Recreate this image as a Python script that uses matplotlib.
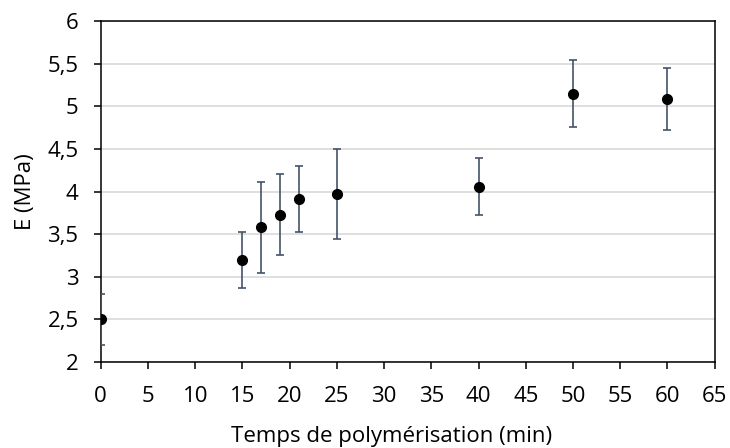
import matplotlib
matplotlib.use("Agg")
import matplotlib.pyplot as plt
from matplotlib.ticker import FuncFormatter

# ── Data ──────────────────────────────────────────────────────────────────────
temps = [0, 15, 17, 19, 21, 25, 40, 50, 60]
module = [2.50, 3.20, 3.58, 3.72, 3.91, 3.97, 4.05, 5.15, 5.09]
err_low = [0.30, 0.33, 0.54, 0.46, 0.38, 0.53, 0.33, 0.39, 0.37]
err_high = [0.30, 0.32, 0.53, 0.48, 0.39, 0.53, 0.34, 0.39, 0.36]

plt.rcParams["font.family"] = ["Open Sans", "DejaVu Sans"]

fig = plt.figure(figsize=(7.3, 4.48), dpi=100)
ax = fig.add_axes([0.138, 0.192, 0.841, 0.761])

ax.errorbar(temps, module, yerr=[err_low, err_high], fmt="o", color="black",
            ms=7, ecolor="#44546A", elinewidth=1.2, capsize=3, capthick=1.2,
            zorder=3)

ax.set_xlim(0, 65)
ax.set_ylim(2, 6)
ax.set_xticks(range(0, 66, 5))
ax.set_yticks([2 + 0.5 * i for i in range(9)])
ax.yaxis.set_major_formatter(FuncFormatter(lambda v, _: f"{v:g}".replace(".", ",")))
ax.grid(axis="y", color="#d9d9d9", lw=1.2)
ax.set_axisbelow(True)

for s in ax.spines.values():
    s.set_color("black")
    s.set_linewidth(1.1)
ax.tick_params(direction="out", length=5, width=1.1, labelsize=16, pad=11)
ax.tick_params(axis="x", pad=12)

ax.set_xlabel("Temps de polymérisation (min)", fontsize=16, va="center")
ax.set_ylabel("E (MPa)", fontsize=16, va="center")
ax.xaxis.set_label_coords(0.474, -0.22)
ax.yaxis.set_label_coords(-0.122, 0.5)

fig.savefig("out.png", dpi=100)
